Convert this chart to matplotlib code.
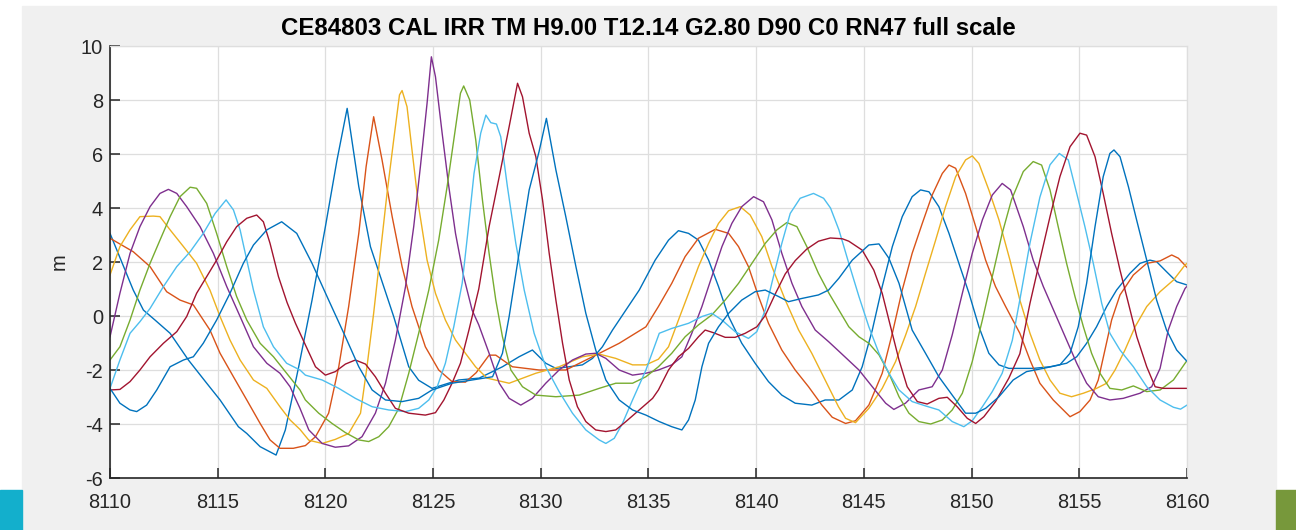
import numpy as np
import matplotlib
matplotlib.use("Agg")
import matplotlib.pyplot as plt
from matplotlib.patches import Rectangle

# wave elevation traces (time s, elevation m)
blue1 = np.array([
    [8110.0, 3.06], [8111.08, 0.96], [8111.55, 0.22], [8112.09, -0.15], [8112.79, -0.64],
    [8113.64, -1.63], [8114.49, -2.49], [8115.11, -3.11], [8115.96, -4.10], [8116.35, -4.35],
    [8116.97, -4.84], [8117.71, -5.15], [8118.14, -4.22], [8118.76, -1.88], [8119.38, 0.59],
    [8120.0, 3.31], [8120.54, 5.78], [8121.01, 7.69], [8121.55, 4.79], [8122.09, 2.57],
    [8123.17, -0.02], [8123.87, -1.88], [8124.33, -2.38], [8124.95, -2.68], [8126.19, -2.37],
    [8127.14, -2.30], [8128.22, -1.88], [8128.99, -1.51], [8129.61, -1.26], [8130.23, -1.75],
    [8130.70, -1.94], [8131.32, -1.88], [8131.93, -1.81], [8132.40, -1.57], [8132.86, -1.14],
    [8133.33, -0.52], [8133.95, 0.22], [8134.57, 0.96], [8135.31, 2.07], [8135.93, 2.81],
    [8136.39, 3.16], [8136.86, 3.06], [8137.32, 2.81], [8137.79, 2.07], [8138.25, 1.09],
    [8138.72, -0.02], [8139.33, -1.01], [8139.95, -1.75], [8140.57, -2.43], [8141.19, -2.93],
    [8141.81, -3.23], [8142.58, -3.30], [8143.20, -3.11], [8143.84, -3.11], [8144.46, -2.74],
    [8144.92, -1.88], [8145.39, -0.52], [8145.85, 1.09], [8146.32, 2.57], [8146.78, 3.68],
    [8147.24, 4.42], [8147.63, 4.67], [8148.02, 4.60], [8148.48, 4.05], [8148.95, 3.06],
    [8149.41, 1.95], [8149.88, 0.84], [8150.34, -0.40], [8150.80, -1.38], [8151.27, -1.81],
    [8151.73, -1.94], [8152.24, -1.94], [8152.86, -1.94], [8153.64, -1.88], [8154.41, -1.75],
    [8154.88, -1.51], [8155.34, -1.01], [8155.80, -0.40], [8156.27, 0.35], [8156.73, 0.96],
    [8157.35, 1.58], [8157.82, 1.95], [8158.28, 2.07], [8158.59, 2.01], [8159.05, 1.64],
    [8159.52, 1.27], [8160.0, 1.15]])

orange = np.array([
    [8110.0, 2.88], [8111.08, 2.38], [8111.86, 1.83], [8112.63, 0.90], [8113.25, 0.59],
    [8113.87, 0.41], [8114.64, -0.52], [8115.11, -1.38], [8115.73, -2.25], [8116.35, -3.11],
    [8116.97, -3.98], [8117.43, -4.59], [8117.89, -4.90], [8118.51, -4.90], [8119.07, -4.80],
    [8119.54, -4.47], [8120.15, -3.60], [8120.62, -1.88], [8121.08, 0.35], [8121.55, 3.06],
    [8121.89, 5.53], [8122.24, 7.38], [8122.63, 5.78], [8123.10, 3.68], [8123.56, 1.83],
    [8124.02, 0.35], [8124.64, -1.14], [8125.26, -2.00], [8125.88, -2.43], [8126.50, -2.45],
    [8127.00, -2.10], [8127.60, -1.45], [8127.91, -1.45], [8128.68, -1.88], [8129.92, -2.00],
    [8131.16, -2.00], [8132.40, -1.51], [8133.64, -1.01], [8134.88, -0.40], [8135.46, 0.35],
    [8136.08, 1.21], [8136.70, 2.20], [8137.32, 2.88], [8138.10, 3.21], [8138.72, 3.06],
    [8139.18, 2.57], [8139.64, 1.83], [8140.11, 0.72], [8140.57, -0.27], [8141.19, -1.26],
    [8141.81, -2.00], [8142.43, -2.62], [8143.05, -3.30], [8143.53, -3.75], [8144.15, -3.98],
    [8144.61, -3.88], [8145.23, -3.30], [8145.85, -2.12], [8146.32, -0.64], [8146.78, 0.96],
    [8147.24, 2.32], [8147.71, 3.43], [8148.17, 4.48], [8148.64, 5.28], [8148.95, 5.59],
    [8149.26, 5.47], [8149.72, 4.54], [8150.19, 3.31], [8150.65, 2.07], [8151.11, 1.09],
    [8151.58, 0.35], [8152.24, -0.64], [8152.71, -1.63], [8153.17, -2.49], [8153.79, -3.11],
    [8154.57, -3.73], [8155.03, -3.54], [8155.50, -3.11], [8155.88, -2.37], [8156.19, -1.26],
    [8156.50, -0.15], [8156.89, 0.78], [8157.51, 1.52], [8158.13, 1.95], [8158.75, 2.04],
    [8159.29, 2.26], [8159.60, 2.14], [8160.0, 1.80]])

yellow = np.array([
    [8110.0, 1.52], [8110.46, 2.57], [8110.93, 3.19], [8111.39, 3.68], [8112.01, 3.70],
    [8112.32, 3.68], [8112.79, 3.19], [8113.41, 2.57], [8114.02, 1.95], [8114.64, 0.96],
    [8115.11, -0.02], [8115.57, -0.89], [8116.04, -1.63], [8116.66, -2.37], [8117.28, -2.68],
    [8117.89, -3.36], [8118.36, -3.85], [8118.82, -4.20], [8119.23, -4.60], [8119.85, -4.72],
    [8120.46, -4.57], [8121.08, -4.35], [8121.63, -3.60], [8121.93, -1.88], [8122.24, 0.10],
    [8122.55, 2.32], [8122.86, 4.54], [8123.17, 6.52], [8123.44, 8.19], [8123.56, 8.35],
    [8123.79, 7.75], [8124.02, 6.15], [8124.33, 4.05], [8124.72, 2.07], [8125.11, 0.84],
    [8125.57, -0.15], [8126.04, -0.89], [8126.50, -1.38], [8126.97, -1.88], [8127.50, -2.30],
    [8128.53, -2.49], [8129.77, -2.12], [8130.85, -1.88], [8131.93, -1.51], [8132.71, -1.41],
    [8133.48, -1.57], [8134.26, -1.81], [8134.88, -1.81], [8135.46, -1.60], [8135.93, -1.14],
    [8136.39, -0.15], [8136.86, 0.84], [8137.32, 1.83], [8137.79, 2.69], [8138.25, 3.43],
    [8138.72, 3.90], [8139.26, 4.05], [8139.72, 3.74], [8140.26, 2.94], [8140.73, 1.83],
    [8141.35, 0.59], [8141.97, -0.52], [8142.58, -1.38], [8143.20, -2.37], [8143.82, -3.36],
    [8144.15, -3.79], [8144.61, -3.95], [8145.23, -3.42], [8145.85, -2.68], [8146.47, -1.69],
    [8146.94, -0.70], [8147.40, 0.35], [8147.86, 1.58], [8148.33, 2.81], [8148.79, 4.05],
    [8149.26, 5.16], [8149.72, 5.78], [8150.03, 5.93], [8150.34, 5.65], [8150.80, 4.67],
    [8151.27, 3.56], [8151.78, 2.07], [8152.24, 0.59], [8152.71, -0.64], [8153.17, -1.63],
    [8153.64, -2.37], [8154.10, -2.86], [8154.64, -2.99], [8155.19, -2.86], [8155.80, -2.68],
    [8156.27, -2.49], [8156.66, -2.00], [8157.12, -1.26], [8157.59, -0.40], [8158.13, 0.35],
    [8158.75, 0.90], [8159.37, 1.33], [8159.91, 1.89], [8160.0, 1.95]])

purple = np.array([
    [8110.0, -0.77], [8110.46, 0.84], [8110.93, 2.32], [8111.39, 3.31], [8111.86, 4.05],
    [8112.32, 4.54], [8112.71, 4.69], [8113.10, 4.54], [8113.56, 4.05], [8114.18, 3.31],
    [8114.80, 2.32], [8115.42, 1.09], [8116.04, -0.02], [8116.66, -1.14], [8117.28, -1.75],
    [8117.89, -2.12], [8118.36, -2.62], [8118.82, -3.42], [8119.23, -4.22], [8119.85, -4.72],
    [8120.46, -4.86], [8121.08, -4.81], [8121.70, -4.47], [8122.32, -3.60], [8122.79, -2.49],
    [8123.25, -0.89], [8123.72, 1.09], [8124.10, 3.31], [8124.41, 5.53], [8124.72, 7.88],
    [8124.92, 9.60], [8125.11, 8.86], [8125.42, 6.77], [8125.73, 4.79], [8126.04, 3.06],
    [8126.42, 1.46], [8126.81, 0.22], [8127.12, -0.33], [8127.60, -1.38], [8128.07, -2.49],
    [8128.53, -3.05], [8129.07, -3.30], [8129.61, -3.05], [8130.23, -2.49], [8130.85, -2.00],
    [8131.47, -1.63], [8132.09, -1.41], [8132.55, -1.38], [8133.02, -1.57], [8133.64, -2.00],
    [8134.26, -2.19], [8134.88, -2.12], [8135.46, -2.00], [8136.08, -1.81], [8136.55, -1.51],
    [8137.01, -0.64], [8137.48, 0.35], [8137.94, 1.46], [8138.41, 2.57], [8138.87, 3.43],
    [8139.33, 4.05], [8139.88, 4.42], [8140.34, 4.23], [8140.73, 3.56], [8141.19, 2.32],
    [8141.66, 1.21], [8142.12, 0.35], [8142.74, -0.52], [8143.36, -0.95], [8143.90, -1.35],
    [8144.77, -2.00], [8145.39, -2.62], [8146.01, -3.23], [8146.39, -3.46], [8146.93, -3.23],
    [8147.55, -2.74], [8148.17, -2.62], [8148.64, -2.00], [8149.10, -0.70], [8149.57, 0.84],
    [8150.03, 2.32], [8150.50, 3.56], [8150.96, 4.48], [8151.42, 4.91], [8151.81, 4.67],
    [8152.40, 3.31], [8152.86, 2.07], [8153.33, 1.09], [8153.87, 0.10], [8154.41, -0.89],
    [8154.88, -1.75], [8155.34, -2.49], [8155.88, -2.99], [8156.42, -3.11], [8157.04, -3.05],
    [8157.82, -2.86], [8158.36, -2.62], [8158.75, -1.94], [8159.13, -0.52], [8159.52, 0.35],
    [8159.91, 1.02], [8160.0, 1.10]])

green = np.array([
    [8110.0, -1.63], [8110.46, -1.14], [8110.93, -0.15], [8111.39, 0.96], [8111.86, 1.95],
    [8112.32, 2.81], [8112.79, 3.68], [8113.25, 4.42], [8113.72, 4.77], [8114.02, 4.73],
    [8114.49, 4.17], [8114.95, 3.06], [8115.42, 1.83], [8115.88, 0.72], [8116.35, -0.15],
    [8116.97, -1.01], [8117.59, -1.51], [8118.20, -2.12], [8118.82, -2.74], [8119.07, -3.11],
    [8119.69, -3.60], [8120.31, -3.98], [8120.93, -4.32], [8121.55, -4.59], [8122.01, -4.65],
    [8122.48, -4.47], [8122.94, -4.10], [8123.41, -3.42], [8123.87, -2.12], [8124.33, -0.64],
    [8124.80, 0.96], [8125.26, 2.81], [8125.65, 4.79], [8125.96, 6.52], [8126.27, 8.25],
    [8126.42, 8.52], [8126.70, 8.00], [8126.98, 6.52], [8127.29, 4.30], [8127.60, 2.32],
    [8127.91, 0.59], [8128.22, -0.77], [8128.61, -2.00], [8129.15, -2.62], [8129.77, -2.93],
    [8130.70, -2.99], [8131.78, -2.93], [8132.71, -2.68], [8133.48, -2.49], [8134.26, -2.49],
    [8134.88, -2.25], [8135.46, -1.88], [8136.08, -1.38], [8136.70, -0.77], [8137.32, -0.33],
    [8137.94, 0.04], [8138.56, 0.59], [8139.18, 1.21], [8139.80, 1.95], [8140.42, 2.69],
    [8140.96, 3.19], [8141.42, 3.46], [8141.89, 3.31], [8142.35, 2.57], [8142.89, 1.58],
    [8143.38, 0.84], [8143.84, 0.22], [8144.30, -0.40], [8144.77, -0.77], [8145.23, -1.01],
    [8145.70, -1.44], [8146.16, -2.12], [8146.63, -2.99], [8147.09, -3.60], [8147.55, -3.91],
    [8148.10, -4.00], [8148.64, -3.85], [8149.10, -3.48], [8149.57, -2.86], [8150.03, -1.69],
    [8150.50, -0.15], [8150.96, 1.46], [8151.42, 3.06], [8151.85, 4.30], [8152.40, 5.35],
    [8152.86, 5.72], [8153.25, 5.59], [8153.64, 4.67], [8154.02, 3.31], [8154.41, 1.95],
    [8154.80, 0.72], [8155.19, -0.40], [8155.57, -1.38], [8155.96, -2.12], [8156.42, -2.68],
    [8156.97, -2.74], [8157.51, -2.59], [8158.13, -2.80], [8158.75, -2.74], [8159.37, -2.37],
    [8159.91, -1.75], [8160.0, -1.65]])

light_blue = np.array([
    [8110.0, -2.68], [8110.46, -1.63], [8110.93, -0.64], [8111.39, -0.21], [8111.86, 0.28],
    [8112.48, 1.09], [8113.10, 1.83], [8113.72, 2.38], [8114.33, 3.06], [8114.88, 3.80],
    [8115.39, 4.30], [8115.73, 3.93], [8116.04, 3.19], [8116.35, 2.07], [8116.66, 0.96],
    [8117.12, -0.40], [8117.59, -1.14], [8118.20, -1.75], [8118.82, -2.00], [8119.07, -2.19],
    [8119.85, -2.37], [8120.62, -2.68], [8121.39, -3.05], [8122.17, -3.36], [8122.94, -3.48],
    [8123.72, -3.54], [8124.33, -3.42], [8124.80, -3.11], [8125.19, -2.62], [8125.57, -1.75],
    [8125.96, -0.40], [8126.35, 1.21], [8126.60, 3.00], [8126.90, 5.28], [8127.21, 6.77],
    [8127.45, 7.44], [8127.68, 7.16], [8127.94, 7.11], [8128.14, 6.64], [8128.45, 4.79],
    [8128.84, 2.69], [8129.23, 0.96], [8129.69, -0.64], [8130.23, -1.88], [8130.85, -2.80],
    [8131.47, -3.60], [8132.09, -4.22], [8132.71, -4.59], [8133.02, -4.72], [8133.41, -4.53],
    [8133.79, -3.98], [8134.26, -3.11], [8134.88, -2.00], [8135.50, -0.64], [8136.08, -0.46],
    [8136.86, -0.27], [8137.48, -0.02], [8137.94, 0.10], [8138.41, -0.15], [8139.02, -0.58],
    [8139.64, -0.83], [8140.03, -0.58], [8140.42, 0.22], [8140.80, 1.46], [8141.19, 2.69],
    [8141.58, 3.80], [8142.04, 4.36], [8142.66, 4.54], [8143.13, 4.36], [8143.45, 4.00],
    [8143.84, 3.19], [8144.30, 1.95], [8144.77, 0.72], [8145.23, -0.40], [8145.70, -1.38],
    [8146.16, -2.12], [8146.63, -2.74], [8147.24, -3.17], [8147.86, -3.33], [8148.48, -3.48],
    [8149.10, -3.91], [8149.64, -4.10], [8150.03, -3.88], [8150.50, -3.36], [8150.96, -2.80],
    [8151.42, -2.12], [8151.89, -0.90], [8152.24, 0.60], [8152.71, 2.70], [8153.17, 4.40],
    [8153.64, 5.60], [8154.07, 6.02], [8154.49, 5.78], [8154.88, 4.54], [8155.26, 3.31],
    [8155.65, 1.95], [8156.04, 0.47], [8156.42, -0.64], [8156.89, -1.26], [8157.51, -1.88],
    [8158.13, -2.62], [8158.75, -3.11], [8159.37, -3.38], [8159.70, -3.45], [8160.0, -3.30]])

dark_red = np.array([
    [8110.0, -2.74], [8110.46, -2.72], [8110.93, -2.43], [8111.39, -2.00], [8111.86, -1.51],
    [8112.48, -1.01], [8113.10, -0.58], [8113.56, -0.02], [8114.02, 0.84], [8114.49, 1.46],
    [8114.95, 2.07], [8115.42, 2.75], [8115.88, 3.31], [8116.35, 3.62], [8116.81, 3.74],
    [8117.12, 3.49], [8117.43, 2.69], [8117.82, 1.46], [8118.22, 0.50], [8118.61, -0.27],
    [8119.07, -1.07], [8119.54, -1.88], [8120.00, -2.19], [8120.46, -2.06], [8120.93, -1.78],
    [8121.39, -1.63], [8121.86, -1.78], [8122.32, -2.25], [8122.79, -2.86], [8123.25, -3.42],
    [8123.87, -3.60], [8124.64, -3.67], [8125.11, -3.58], [8125.50, -3.11], [8125.88, -2.49],
    [8126.27, -1.75], [8126.67, -0.50], [8127.12, 1.00], [8127.60, 3.31], [8128.07, 5.16],
    [8128.53, 7.01], [8128.92, 8.62], [8129.15, 8.12], [8129.46, 6.77], [8129.77, 5.90],
    [8130.08, 4.30], [8130.39, 2.32], [8130.70, 0.59], [8131.01, -1.01], [8131.32, -2.37],
    [8131.70, -3.36], [8132.09, -3.91], [8132.55, -4.22], [8133.02, -4.28], [8133.48, -4.22],
    [8133.95, -3.91], [8134.57, -3.48], [8135.19, -3.05], [8135.46, -2.74], [8135.93, -2.00],
    [8136.39, -1.51], [8136.86, -1.20], [8137.32, -0.77], [8137.63, -0.52], [8138.02, -0.62],
    [8138.56, -0.79], [8139.02, -0.79], [8139.49, -0.64], [8140.03, -0.40], [8140.42, 0.02],
    [8140.88, 0.81], [8141.35, 1.56], [8141.81, 2.05], [8142.35, 2.48], [8142.89, 2.77],
    [8143.44, 2.89], [8144.00, 2.86], [8144.30, 2.77], [8144.92, 2.44], [8145.46, 1.70],
    [8145.85, 0.84], [8146.24, -0.40], [8146.63, -1.63], [8147.01, -2.62], [8147.48, -3.17],
    [8147.94, -3.26], [8148.48, -3.05], [8148.87, -3.01], [8149.33, -3.36], [8149.80, -3.79],
    [8150.19, -3.98], [8150.57, -3.73], [8151.11, -3.17], [8151.73, -2.30], [8152.24, -1.40],
    [8152.71, 0.47], [8153.17, 2.07], [8153.64, 3.68], [8154.10, 5.16], [8154.57, 6.27],
    [8155.03, 6.77], [8155.34, 6.70], [8155.73, 5.90], [8156.11, 4.54], [8156.50, 3.06],
    [8156.89, 1.70], [8157.28, 0.47], [8157.67, -0.77], [8158.13, -1.88], [8158.52, -2.62],
    [8158.90, -2.68], [8160.0, -2.68]])

blue2 = np.array([
    [8110.0, -2.68], [8110.46, -3.23], [8110.93, -3.48], [8111.24, -3.54], [8111.70, -3.30],
    [8112.17, -2.74], [8112.79, -1.88], [8113.41, -1.63], [8113.87, -1.51], [8114.33, -1.01],
    [8114.95, -0.15], [8115.57, 0.84], [8116.19, 1.95], [8116.66, 2.63], [8117.28, 3.19],
    [8117.97, 3.49], [8118.67, 3.06], [8119.38, 1.95], [8120.15, 0.59], [8120.93, -0.77],
    [8121.55, -1.88], [8122.17, -2.74], [8122.79, -3.11], [8123.56, -3.17], [8124.33, -3.05],
    [8124.95, -2.74], [8125.88, -2.49], [8126.81, -2.37], [8127.76, -2.25], [8128.22, -1.38],
    [8128.53, -0.02], [8128.99, 2.32], [8129.46, 4.67], [8129.92, 6.09], [8130.26, 7.32],
    [8130.70, 5.41], [8131.16, 3.68], [8131.63, 1.83], [8132.09, 0.10], [8132.55, -1.26],
    [8133.02, -2.37], [8133.64, -3.11], [8134.26, -3.48], [8134.88, -3.67], [8135.50, -3.91],
    [8136.08, -4.10], [8136.55, -4.22], [8136.86, -3.85], [8137.17, -3.11], [8137.48, -1.88],
    [8137.79, -1.01], [8138.25, -0.40], [8138.72, 0.10], [8139.33, 0.59], [8139.95, 0.90],
    [8140.42, 0.96], [8141.04, 0.72], [8141.50, 0.53], [8142.12, 0.65], [8142.89, 0.78],
    [8143.36, 0.96], [8143.84, 1.40], [8144.46, 2.07], [8145.23, 2.63], [8145.70, 2.67],
    [8146.16, 2.14], [8146.63, 1.21], [8147.24, -0.52], [8147.86, -1.38], [8148.48, -2.25],
    [8149.10, -2.93], [8149.72, -3.60], [8150.19, -3.60], [8150.65, -3.42], [8151.27, -2.99],
    [8151.93, -2.37], [8152.55, -2.06], [8153.33, -1.94], [8154.10, -1.81], [8154.57, -1.38],
    [8154.95, -0.40], [8155.34, 1.21], [8155.73, 3.31], [8156.11, 5.16], [8156.42, 6.02],
    [8156.61, 6.15], [8156.89, 5.90], [8157.28, 4.79], [8157.66, 3.56], [8158.13, 2.07],
    [8158.59, 0.59], [8159.05, -0.52], [8159.52, -1.26], [8160.0, -1.68]])

traces = [blue1, orange, yellow, purple, green, light_blue, dark_red, blue2]
colors = ["#0072BD", "#D95319", "#EDB120", "#7E2F8E", "#77AC30", "#4DBEEE", "#A2142F", "#0072BD"]

title = "CE84803 CAL IRR TM H9.00 T12.14 G2.80 D90 C0 RN47 full scale"
xticks = np.arange(8110, 8161, 5)
yticks = np.arange(-6, 11, 2)

plt.rcParams["font.family"] = ["Liberation Sans", "DejaVu Sans"]
plt.rcParams["axes.unicode_minus"] = False

W, H = 1296, 530
fig = plt.figure(figsize=(W / 100, H / 100), dpi=100, facecolor="white")

# grey window panel and the two slide corner bars (behind the axes)
fig.patches.append(Rectangle((22 / W, 0), (1276 - 22) / W, (H - 6) / H,
                             transform=fig.transFigure, color="#F0F0F0", zorder=-10))
fig.patches.append(Rectangle((0, 0), 22 / W, 40 / H,
                             transform=fig.transFigure, color="#13AFCC", zorder=-9))
fig.patches.append(Rectangle((1276 / W, 0), 20 / W, 40 / H,
                             transform=fig.transFigure, color="#77983B", zorder=-9))

ax = fig.add_axes([110 / W, (H - 478) / H, 1077 / W, 432 / H])
ax.set_facecolor("white")

for tr, c in zip(traces, colors):
    ax.plot(tr[:, 0], tr[:, 1], color=c, linewidth=1.0)

ax.set_xlim(8110, 8160)
ax.set_ylim(-6, 10)
ax.set_xticks(xticks)
ax.set_yticks(yticks)
ax.grid(True, color="#DEDEDE", linewidth=0.9)
ax.set_axisbelow(True)

for s in ["top", "right"]:
    ax.spines[s].set_color("#DEDEDE")
    ax.spines[s].set_linewidth(0.9)
for s in ["left", "bottom"]:
    ax.spines[s].set_color("#262626")
    ax.spines[s].set_linewidth(1.2)

ax.tick_params(axis="both", direction="in", length=7.5, width=1.1,
               colors="#262626", labelsize=14.4)
ax.tick_params(axis="x", pad=11)
ax.tick_params(axis="y", pad=5)

ax.set_ylabel("m", fontsize=14.4, color="#262626", labelpad=9)
ax.set_title(title, fontsize=17.3, fontweight="bold", color="black", pad=8)

fig.savefig("out.png", dpi=100, facecolor=fig.get_facecolor())
